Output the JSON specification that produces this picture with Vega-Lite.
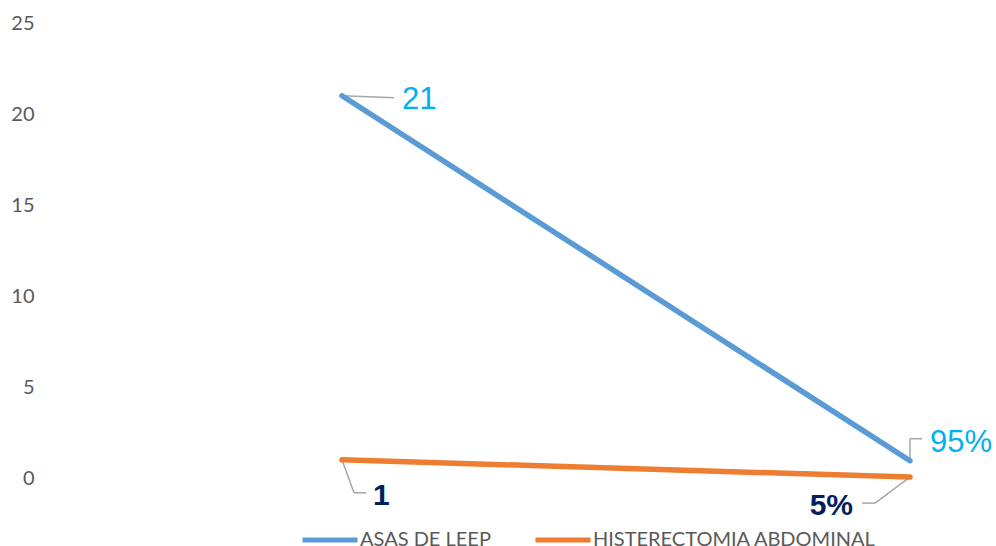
{
  "$schema": "https://vega.github.io/schema/vega-lite/v6.json",
  "width": 950,
  "height": 455,
  "autosize": {"type": "none"},
  "padding": {"left": 40, "top": 23, "right": 6, "bottom": 68},
  "background": "white",
  "config": {"view": {"stroke": null}},
  "data": {
    "values": [
      {"grupo": "ASAS DE LEEP", "medida": "Casos", "valor": 21, "etiqueta": "21"},
      {"grupo": "ASAS DE LEEP", "medida": "Porcentaje", "valor": 0.95, "etiqueta": "95%"},
      {"grupo": "HISTERECTOMIA ABDOMINAL", "medida": "Casos", "valor": 1, "etiqueta": "1"},
      {"grupo": "HISTERECTOMIA ABDOMINAL", "medida": "Porcentaje", "valor": 0.05, "etiqueta": "5%"}
    ]
  },
  "encoding": {
    "x": {
      "field": "medida",
      "type": "nominal",
      "sort": ["Casos", "Porcentaje"],
      "scale": {"type": "point", "range": [302, 870], "padding": 0},
      "axis": null
    },
    "y": {
      "field": "valor",
      "type": "quantitative",
      "scale": {"domain": [0, 25], "nice": false},
      "axis": {
        "values": [0, 5, 10, 15, 20, 25],
        "domain": false,
        "ticks": false,
        "grid": false,
        "title": null,
        "labelColor": "#595959",
        "labelFont": "Lato",
        "labelFontSize": 20,
        "labelPadding": 6
      }
    }
  },
  "layer": [
    {
      "transform": [{"filter": "datum.etiqueta === '21'"}],
      "mark": {"type": "rule", "color": "#A6A6A6", "strokeWidth": 1.5, "x2Offset": 52, "y2Offset": 2},
      "encoding": {"x2": {"field": "medida"}, "y2": {"field": "valor"}}
    },
    {
      "transform": [{"filter": "datum.etiqueta === '95%'"}],
      "mark": {"type": "rule", "color": "#A6A6A6", "strokeWidth": 1.5, "y2Offset": -22},
      "encoding": {"x2": {"field": "medida"}, "y2": {"field": "valor"}}
    },
    {
      "transform": [{"filter": "datum.etiqueta === '95%'"}],
      "mark": {"type": "rule", "color": "#A6A6A6", "strokeWidth": 1.5, "yOffset": -22, "x2Offset": 12, "y2Offset": -22},
      "encoding": {"x2": {"field": "medida"}, "y2": {"field": "valor"}}
    },
    {
      "transform": [{"filter": "datum.etiqueta === '1'"}],
      "mark": {"type": "rule", "color": "#A6A6A6", "strokeWidth": 1.5, "x2Offset": 12, "y2Offset": 33},
      "encoding": {"x2": {"field": "medida"}, "y2": {"field": "valor"}}
    },
    {
      "transform": [{"filter": "datum.etiqueta === '1'"}],
      "mark": {"type": "rule", "color": "#A6A6A6", "strokeWidth": 1.5, "xOffset": 12, "yOffset": 33, "x2Offset": 24, "y2Offset": 33},
      "encoding": {"x2": {"field": "medida"}, "y2": {"field": "valor"}}
    },
    {
      "transform": [{"filter": "datum.etiqueta === '5%'"}],
      "mark": {"type": "rule", "color": "#A6A6A6", "strokeWidth": 1.5, "x2Offset": -35, "y2Offset": 26},
      "encoding": {"x2": {"field": "medida"}, "y2": {"field": "valor"}}
    },
    {
      "transform": [{"filter": "datum.etiqueta === '5%'"}],
      "mark": {"type": "rule", "color": "#A6A6A6", "strokeWidth": 1.5, "xOffset": -35, "yOffset": 26, "x2Offset": -48, "y2Offset": 26},
      "encoding": {"x2": {"field": "medida"}, "y2": {"field": "valor"}}
    },
    {
      "mark": {"type": "line", "strokeWidth": 5.5, "strokeCap": "round"},
      "encoding": {
        "color": {
          "field": "grupo",
          "type": "nominal",
          "scale": {"domain": ["ASAS DE LEEP", "HISTERECTOMIA ABDOMINAL"], "range": ["#5B9BD5", "#ED7D31"]},
          "legend": {
            "orient": "none",
            "legendX": 260,
            "legendY": 487,
            "direction": "horizontal",
            "title": null,
            "padding": 0,
            "symbolType": "stroke",
            "symbolSize": 3025,
            "symbolStrokeWidth": 5,
            "labelFont": "Lato",
            "labelFontSize": 20,
            "labelColor": "#595959",
            "labelOffset": 0,
            "labelLimit": 400,
            "columnPadding": 34
          }
        }
      }
    },
    {
      "transform": [{"filter": "datum.etiqueta === '21'"}],
      "mark": {"type": "text", "align": "left", "baseline": "alphabetic", "dx": 60, "dy": 13, "font": "Liberation Sans", "fontSize": 31, "color": "#00B0F0"},
      "encoding": {"text": {"field": "etiqueta"}}
    },
    {
      "transform": [{"filter": "datum.etiqueta === '95%'"}],
      "mark": {"type": "text", "align": "left", "baseline": "alphabetic", "dx": 20, "dy": -9, "font": "Liberation Sans", "fontSize": 31, "color": "#00B0F0"},
      "encoding": {"text": {"field": "etiqueta"}}
    },
    {
      "transform": [{"filter": "datum.etiqueta === '1'"}],
      "mark": {"type": "text", "align": "left", "baseline": "alphabetic", "dx": 31, "dy": 45, "font": "Liberation Sans", "fontWeight": "bold", "fontSize": 30, "color": "#002060"},
      "encoding": {"text": {"field": "etiqueta"}}
    },
    {
      "transform": [{"filter": "datum.etiqueta === '5%'"}],
      "mark": {"type": "text", "align": "right", "baseline": "alphabetic", "dx": -57, "dy": 38, "font": "Liberation Sans", "fontWeight": "bold", "fontSize": 30, "color": "#002060"},
      "encoding": {"text": {"field": "etiqueta"}}
    }
  ]
}
